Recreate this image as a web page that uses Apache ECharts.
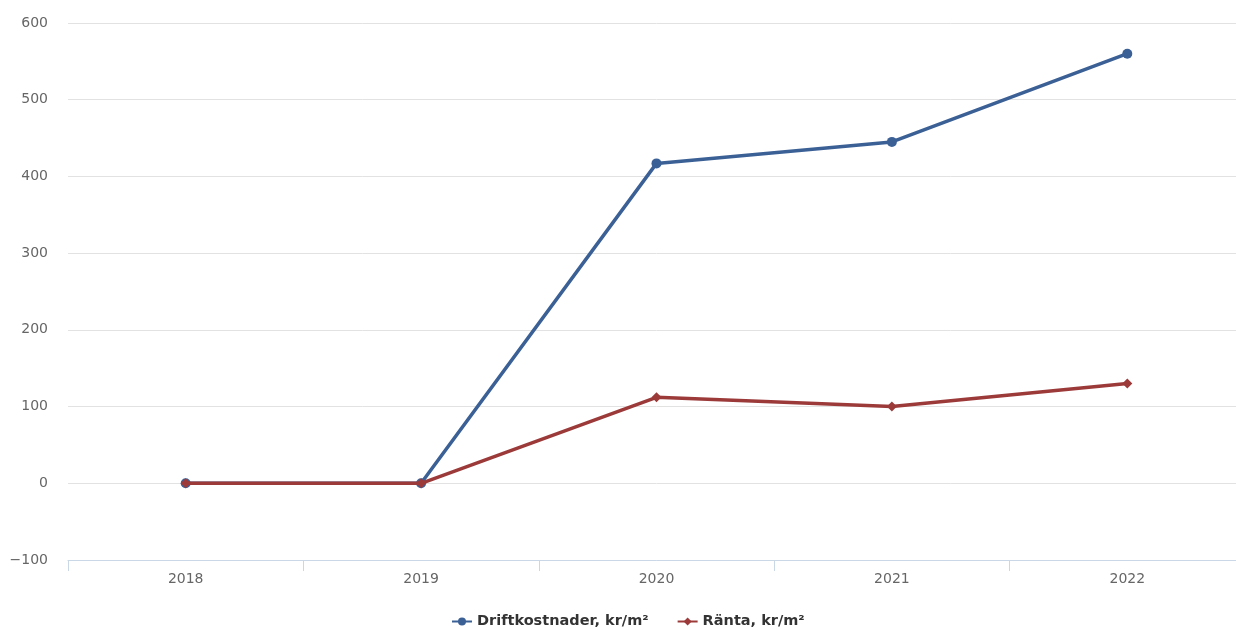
<!DOCTYPE html>
<html>
<head>
<meta charset="utf-8">
<script src="https://cdn.jsdelivr.net/npm/echarts@6/dist/echarts.min.js"></script>
<style>
  html, body { margin: 0; padding: 0; background: #fff; overflow: hidden; }
  #chart { width: 1245px; height: 630px; }
</style>
</head>
<body>
<div id="chart"></div>
<script>
// Yearly cost figures per square metre
const years = ['2018', '2019', '2020', '2021', '2022'];
const driftkostnader = [0, 0, 417, 445, 560];
const ranta = [0, 0, 112, 100, 130];
const yTicks = { min: -100, max: 600, interval: 100 };

const chart = echarts.init(document.getElementById('chart'));
const font = 'DejaVu Sans';

chart.setOption({
  animation: false,
  backgroundColor: '#ffffff',
  grid: { left: 68, top: 23, right: 0, bottom: 70, containLabel: false },
  legend: {
    bottom: -4,
    left: 446,
    itemWidth: 20,
    itemHeight: 10,
    itemGap: 28,
    textStyle: { fontFamily: font, fontSize: 14.5, color: '#333', fontWeight: 'bold' },
    data: ['Driftkostnader, kr/m²', 'Ränta, kr/m²']
  },
  xAxis: {
    type: 'category',
    data: years,
    boundaryGap: true,
    axisLine: { onZero: false, lineStyle: { color: '#c9d7e6', width: 1 } },
    axisTick: { show: true, length: 11, lineStyle: { color: '#c9d7e6' } },
    axisLabel: { fontFamily: font, fontSize: 14, color: '#666', margin: 12 },
    splitLine: { show: false }
  },
  yAxis: {
    type: 'value',
    min: yTicks.min,
    max: yTicks.max,
    interval: yTicks.interval,
    axisLine: { show: false },
    axisTick: { show: false },
    axisLabel: {
      fontFamily: font, fontSize: 14, color: '#666', margin: 20,
      formatter: v => (v < 0 ? '\u2212' + Math.abs(v) : String(v))
    },
    splitLine: { lineStyle: { color: '#e2e2e2', width: 1 } }
  },
  series: [
    {
      name: 'Driftkostnader, kr/m²',
      type: 'line',
      data: driftkostnader,
      color: '#3b6096',
      symbol: 'circle',
      symbolSize: 10,
      lineStyle: { width: 3.5, color: '#3b6096' },
      itemStyle: { color: '#3b6096' },
      z: 2
    },
    {
      name: 'Ränta, kr/m²',
      type: 'line',
      data: ranta,
      color: '#9c3a3a',
      symbol: 'diamond',
      symbolSize: 10,
      lineStyle: { width: 3.5, color: '#9c3a3a' },
      itemStyle: { color: '#9c3a3a' },
      z: 3
    }
  ]
});
</script>
</body>
</html>
